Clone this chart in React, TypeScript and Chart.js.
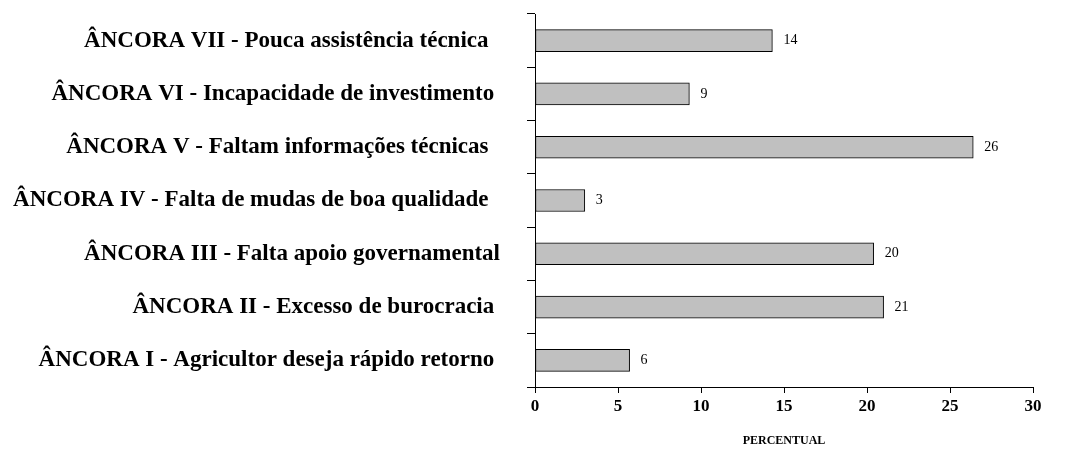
import React, { useEffect, useRef } from "react";
import { Chart, registerables } from "chart.js";

Chart.register(...registerables);

const categories = [
  "ÂNCORA VII - Pouca assistência técnica  ",
  "ÂNCORA VI - Incapacidade de investimento ",
  "ÂNCORA V - Faltam informações técnicas  ",
  "ÂNCORA IV - Falta de mudas de boa qualidade  ",
  "ÂNCORA III - Falta apoio governamental",
  "ÂNCORA II - Excesso de burocracia ",
  "ÂNCORA I - Agricultor deseja rápido retorno ",
];
const values = [14.3, 9.3, 26.4, 3.0, 20.4, 21.0, 5.7];
const xTicks = [0, 5, 10, 15, 20, 25, 30];
const xTitle = "PERCENTUAL";

const FONT = "'Liberation Serif', 'Times New Roman', serif";

const valueLabelPlugin = {
  id: "valueLabels",
  afterDatasetsDraw(chart: any) {
    const ctx = chart.ctx;
    const meta = chart.getDatasetMeta(0);
    ctx.save();
    ctx.font = `14px ${FONT}`;
    ctx.fillStyle = "#000";
    ctx.textAlign = "left";
    ctx.textBaseline = "middle";
    meta.data.forEach((bar: any, i: number) => {
      ctx.fillText(String(Math.round(values[i])), bar.x + 11, bar.y);
    });
    ctx.restore();
  },
};

export default function App() {
  const ref = useRef<HTMLCanvasElement | null>(null);
  useEffect(() => {
    if (!ref.current) return;
    const chart = new Chart(ref.current, {
      type: "bar",
      data: {
        labels: categories,
        datasets: [
          {
            data: values,
            backgroundColor: "#c0c0c0",
            borderColor: "#000",
            borderWidth: 1,
            borderSkipped: false,
            barThickness: 22,
          },
        ],
      },
      options: {
        indexAxis: "y",
        animation: false,
        responsive: false,
        maintainAspectRatio: false,
        layout: { padding: { top: 14, right: 44, bottom: 0, left: 0 } },
        plugins: { legend: { display: false }, tooltip: { enabled: false } },
        scales: {
          x: {
            min: 0,
            max: 30,
            afterBuildTicks(scale: any) {
              scale.ticks = xTicks.map((v) => ({ value: v }));
            },
            afterFit(scale: any) {
              scale.height = 62;
              scale.paddingLeft = 0;
              scale.paddingRight = 0;
            },
            grid: {
              drawOnChartArea: false,
              tickLength: 6,
              color: "#000",
            },
            border: { display: true, color: "#000", width: 1 },
            ticks: {
              color: "#000",
              padding: 3,
              font: { family: FONT, size: 17, weight: "bold" },
              maxRotation: 0,
            },
            title: {
              display: true,
              text: xTitle,
              color: "#000",
              font: { family: FONT, size: 12, weight: "bold" },
              padding: { top: 0, bottom: 1 },
            },
          },
          y: {
            afterFit(scale: any) {
              scale.width = 535;
              scale.paddingTop = 0;
              scale.paddingBottom = 0;
            },
            grid: {
              drawOnChartArea: false,
              tickLength: 8,
              color: "#000",
              offset: true,
            },
            border: { display: true, color: "#000", width: 1 },
            ticks: {
              color: "#000",
              padding: 27,
              font: { family: FONT, size: 23, weight: "bold" },
            },
          },
        },
      },
      plugins: [valueLabelPlugin],
    });
    return () => chart.destroy();
  }, []);
  return (
    <div style={{ position: "absolute", left: 0, top: 0, width: 1077, height: 449 }}>
      <canvas ref={ref} width={1077} height={449} style={{ width: 1077, height: 449 }} />
    </div>
  );
}
